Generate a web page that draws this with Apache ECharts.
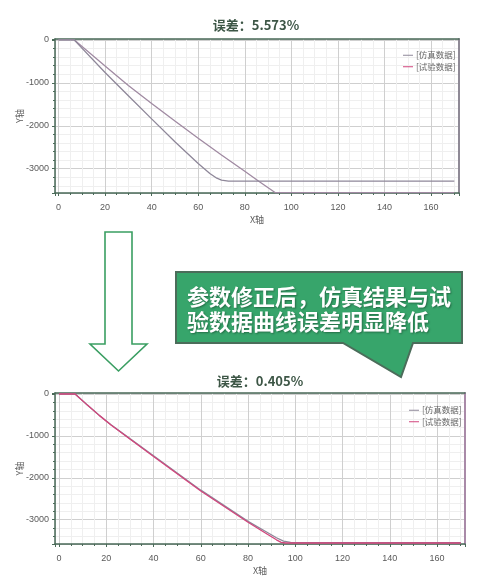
<!DOCTYPE html>
<html>
<head>
<meta charset="utf-8">
<script src="https://cdn.jsdelivr.net/npm/echarts@6/dist/echarts.min.js"></script>
<style>
html,body{margin:0;padding:0;background:#fff;}
#c{width:490px;height:583px;}
</style>
</head>
<body>
<div id="c"></div>
<script>
// ---- data ----
const seriesNames = ['[仿真数据]', '[试验数据]'];
const titles = ['误差：5.573%', '误差：0.405%'];
const calloutLines = ['参数修正后，仿真结果与试', '验数据曲线误差明显降低'];

// top chart (before correction)
const topSimX  = [0, 6.7, 20, 30, 40, 50, 60, 65, 68, 70, 73, 170];
const topSimY  = [0, 0, -760, -1300, -1840, -2370, -2880, -3110, -3220, -3265, -3288, -3290];
const topTestX = [0, 6.7, 20, 30, 40, 50, 60, 70, 80, 86, 93, 170];
const topTestY = [0, 0, -610, -1060, -1480, -1890, -2290, -2680, -3060, -3290, -3555, -3555];

// bottom chart (after correction)
const botSimX  = [0, 6.8, 12, 17, 22, 30, 40, 60, 80, 88, 92, 95, 98, 100, 170];
const botSimY  = [0, 0, -262, -505, -732, -1065, -1475, -2295, -3040, -3300, -3430, -3510, -3540, -3548, -3550];
const botTestX = [0, 6.8, 12, 17, 22, 30, 40, 60, 80, 88, 92, 94, 96, 170];
const botTestY = [0, 0, -265, -510, -740, -1075, -1490, -2315, -3060, -3340, -3480, -3540, -3556, -3556];

function pairs(xs, ys) { return xs.map((x, i) => [x, ys[i]]); }

const simColor = '#8e8799';
const testColor = '#d2457c';
const axisDark = '#4a6a58';
const labelColor = '#5a5a5a';
const cjk = '"Noto Sans CJK SC", "Noto Sans", sans-serif';

function xAxisCfg(gi, min, max) {
  return {
    type: 'value', gridIndex: gi, min: min, max: max, splitNumber: 9,
    name: 'X轴', nameLocation: 'middle', nameGap: 22, nameMoveOverlap: false,
    nameTextStyle: { fontSize: 9, color: labelColor, fontFamily: cjk },
    axisLine: { onZero: false, lineStyle: { color: axisDark, width: 1.5 } },
    axisTick: { show: true, length: 3, lineStyle: { color: axisDark } },
    minorTick: { show: true, splitNumber: 4, length: 2, lineStyle: { color: axisDark } },
    axisLabel: { fontSize: 9, color: labelColor, margin: 10, showMinLabel: false, showMaxLabel: false,
      formatter: v => (Math.abs(v % 20) < 1e-6 ? String(v) : '') },
    splitLine: { show: true, lineStyle: { color: '#cfcfcf', width: 1 } },
    minorSplitLine: { show: true, lineStyle: { color: '#efefef', width: 1 } }
  };
}
function yAxisCfg(gi, min, max) {
  return {
    type: 'value', gridIndex: gi, min: min, max: max, splitNumber: 4,
    name: 'Y轴', nameLocation: 'middle', nameGap: 31, nameMoveOverlap: false,
    nameTextStyle: { fontSize: 9, color: labelColor, fontFamily: cjk },
    axisLine: { show: true, onZero: false, lineStyle: { color: axisDark, width: 1.5 } },
    axisTick: { show: true, length: 3, lineStyle: { color: axisDark } },
    minorTick: { show: true, splitNumber: 5, length: 2, lineStyle: { color: axisDark } },
    axisLabel: { fontSize: 9, color: labelColor, margin: 6, showMinLabel: false, showMaxLabel: false,
      formatter: v => (Math.abs(v % 1000) < 1e-6 ? String(v) : '') },
    splitLine: { show: true, lineStyle: { color: '#cfcfcf', width: 1 } },
    minorSplitLine: { show: true, lineStyle: { color: '#efefef', width: 1 } }
  };
}
function rightFrame(gi, min, max, color) {
  return {
    type: 'value', gridIndex: gi, min: min, max: max, position: 'right',
    axisLine: { show: true, onZero: false, lineStyle: { color: color, width: 2 } },
    axisTick: { show: false }, axisLabel: { show: false }, splitLine: { show: false }
  };
}
function topFrame(gi, min, max) {
  return {
    type: 'value', gridIndex: gi, min: min, max: max, position: 'top',
    axisLine: { show: true, onZero: false, lineStyle: { color: axisDark, width: 1.5 } },
    axisTick: { show: false }, axisLabel: { show: false }, splitLine: { show: false }
  };
}
function legendCfg(left, top) {
  return {
    orient: 'vertical', left: left, top: top, itemGap: 3, itemWidth: 10, itemHeight: 6,
    icon: 'path://M0,2.5L10,2.5L10,3.5L0,3.5Z',
    textStyle: { fontSize: 8.5, color: '#666', fontFamily: cjk, padding: [0, 0, 0, -2] },
    data: [
      { name: seriesNames[0], itemStyle: { color: simColor } },
      { name: seriesNames[1], itemStyle: { color: testColor } }
    ]
  };
}
function lineSeries(name, xi, yi, data, color, z) {
  return {
    type: 'line', name: name, xAxisIndex: xi, yAxisIndex: yi, data: data,
    showSymbol: false, symbol: 'none', smooth: false, z: z,
    lineStyle: { color: color, width: 1.3 }, itemStyle: { color: color }
  };
}

const chart = echarts.init(document.getElementById('c'), null, { renderer: 'canvas' });
const titleStyle = { fontSize: 13, fontWeight: 'bold', color: '#3d5646', fontFamily: cjk };

chart.setOption({
  animation: false,
  backgroundColor: '#ffffff',
  title: [
    { text: titles[0], left: 256, top: 19, textAlign: 'center', textStyle: titleStyle, padding: 0 },
    { text: titles[1], left: 260, top: 375, textAlign: 'center', textStyle: titleStyle, padding: 0 }
  ],
  legend: [ legendCfg(398, 46), legendCfg(404, 401) ],
  grid: [
    { left: 55, right: 31, top: 39, height: 154, show: true, backgroundColor: '#fff', borderWidth: 0 },
    { left: 55, right: 25, top: 393, height: 151, show: true, backgroundColor: '#fff', borderWidth: 0 }
  ],
  xAxis: [
    xAxisCfg(0, -1.5, 172),
    xAxisCfg(1, -1.7, 171.8),
    topFrame(0, -1.5, 172),
    topFrame(1, -1.7, 171.8)
  ],
  yAxis: [
    yAxisCfg(0, -3565, 20),
    yAxisCfg(1, -3580, 24),
    rightFrame(0, -3565, 20, '#8f8a96'),
    rightFrame(1, -3580, 24, '#a98aa8')
  ],
  series: [
    lineSeries(seriesNames[1], 0, 0, pairs(topTestX, topTestY), '#a08aa2', 3),
    lineSeries(seriesNames[0], 0, 0, pairs(topSimX, topSimY), simColor, 4),
    lineSeries(seriesNames[0], 1, 1, pairs(botSimX, botSimY), simColor, 3),
    lineSeries(seriesNames[1], 1, 1, pairs(botTestX, botTestY), testColor, 4)
  ],
  graphic: [
    {
      type: 'polygon', z: 100,
      shape: { points: [[105,232],[132,232],[132,344],[147,344],[118.5,371],[90,344],[105,344]] },
      style: { fill: '#ffffff', stroke: '#3a9e62', lineWidth: 1.6 }
    },
    {
      type: 'polygon', z: 100,
      shape: { points: [[176,272],[462,272],[462,343],[413,343],[401,377],[343,343],[176,343]] },
      style: { fill: '#37a56b', stroke: '#4b6d5a', lineWidth: 2 }
    },
    {
      type: 'text', z: 101, left: 187, top: 284,
      style: {
        text: calloutLines.join('\n'), fill: '#ffffff', font: 'bold 22px "Noto Sans CJK SC", sans-serif',
        lineHeight: 25, textShadowColor: 'rgba(0,0,0,0.35)', textShadowBlur: 2, textShadowOffsetX: 1, textShadowOffsetY: 1
      }
    }
  ]
});
</script>
</body>
</html>
